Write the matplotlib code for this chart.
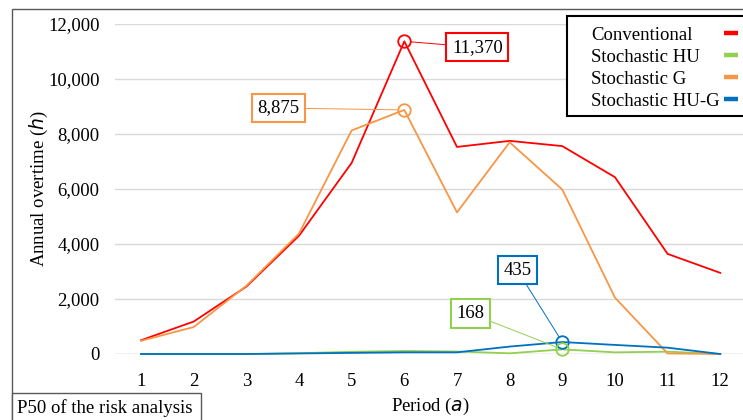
import matplotlib
matplotlib.use("Agg")
import matplotlib.pyplot as plt
from matplotlib.patches import Rectangle
from matplotlib.lines import Line2D

periods = [1, 2, 3, 4, 5, 6, 7, 8, 9, 10, 11, 12]
conventional = [500, 1180, 2450, 4300, 6950, 11370, 7530, 7750, 7560, 6430, 3640, 2950]
stoch_hu = [0, 0, 0, 30, 80, 110, 90, 25, 168, 60, 85, 0]
stoch_g = [480, 980, 2480, 4380, 8130, 8875, 5150, 7700, 5980, 2050, 20, 0]
stoch_hug = [0, 0, 0, 20, 40, 60, 60, 270, 435, 330, 230, 0]
series_names = ["Conventional", "Stochastic HU", "Stochastic G", "Stochastic HU-G"]
colors = ["#FF0000", "#92D050", "#F79646", "#0070C0"]
yticks = [0, 2000, 4000, 6000, 8000, 10000, 12000]

plt.rcParams["font.family"] = ["Liberation Serif", "DejaVu Sans"]
plt.rcParams["mathtext.fontset"] = "dejavusans"
FS = 13.5

W, H = 743, 420
fig = plt.figure(figsize=(W / 100, H / 100), dpi=100)
ax = fig.add_axes([114.7 / W, 1 - 354 / H, 631.9 / W, 330 / H])

data = [conventional, stoch_hu, stoch_g, stoch_hug]
for vals, name, c in zip(data, series_names, colors):
    ax.plot(periods, vals, color=c, lw=1.3, clip_on=False, zorder=3, label=name)

ax.set_xlim(0.5, 12.5)
ax.set_ylim(0, 12000)
ax.set_xticks(periods)
ax.set_yticks(yticks)
ax.set_yticklabels([f"{v:,}" for v in yticks])
ax.tick_params(axis="both", length=0, labelsize=FS)
ax.tick_params(axis="y", pad=11)
ax.tick_params(axis="x", pad=14)
ax.grid(axis="y", color="#D9D9D9", lw=1)
ax.set_axisbelow(True)
for s in ax.spines.values():
    s.set_visible(False)
ax.axhline(0, color="#D9D9D9", lw=1, zorder=1)

ax.set_ylabel(r"Annual overtime ($\it{h}$)", fontsize=FS, labelpad=-1.5)
ax.set_xlabel(r"Period ($\it{a}$)", fontsize=FS, labelpad=4)

# highlighted points
def mark(idx, vals, color, offset):
    x, y = periods[idx], vals[idx]
    ax.plot([x], [y], marker="o", ms=9, mfc="none", mec=color, mew=1.3,
            ls="none", zorder=4, clip_on=False)
    ax.annotate(f"{y:,}", xy=(x, y), xytext=offset, textcoords="offset points",
                ha="center", va="center", fontsize=FS,
                bbox=dict(boxstyle="square,pad=0.3", fc="white", ec=color, lw=1.5),
                arrowprops=dict(arrowstyle="-", color=color, lw=0.7,
                                shrinkA=0, shrinkB=4.5),
                zorder=5)

mark(5, conventional, colors[0], (52.6, -4.3))
mark(5, stoch_g, colors[2], (-90.7, 1.4))
mark(8, stoch_hug, colors[3], (-32.4, 51.8))
mark(8, stoch_hu, colors[1], (-66.2, 25.9))

# legend (text left-aligned, swatches on the right)
fig.patches.append(Rectangle((567 / W, 1 - 116 / H), 200 / W, 100 / H,
                             transform=fig.transFigure, fc="white",
                             ec="black", lw=1.5, zorder=10))
row_y = [33, 55, 77, 99]
for name, c, ry in zip(series_names, colors, row_y):
    fig.text(591 / W, 1 - ry / H, name, fontsize=FS, ha="left",
             va="center_baseline", zorder=11)
    fig.add_artist(Line2D([724 / W, 738 / W], [1 - ry / H, 1 - ry / H],
                          transform=fig.transFigure, color=c, lw=3.2,
                          solid_capstyle="butt", zorder=11))

# outer frame
fig.patches.append(Rectangle((12 / W, -0.1), 1.2, (1 - 9 / H) + 0.1,
                             transform=fig.transFigure, fill=False,
                             ec="#595959", lw=1))
fig.patches.append(Rectangle((12 / W, -0.1), 189 / W, (1 - 393 / H) + 0.1,
                             transform=fig.transFigure, fc="white",
                             ec="#595959", lw=1, zorder=10))
fig.text(17 / W, 1 - 408 / H, "P50 of the risk analysis", fontsize=FS,
         ha="left", va="center", zorder=11)

fig.savefig("out.png", dpi=100)
